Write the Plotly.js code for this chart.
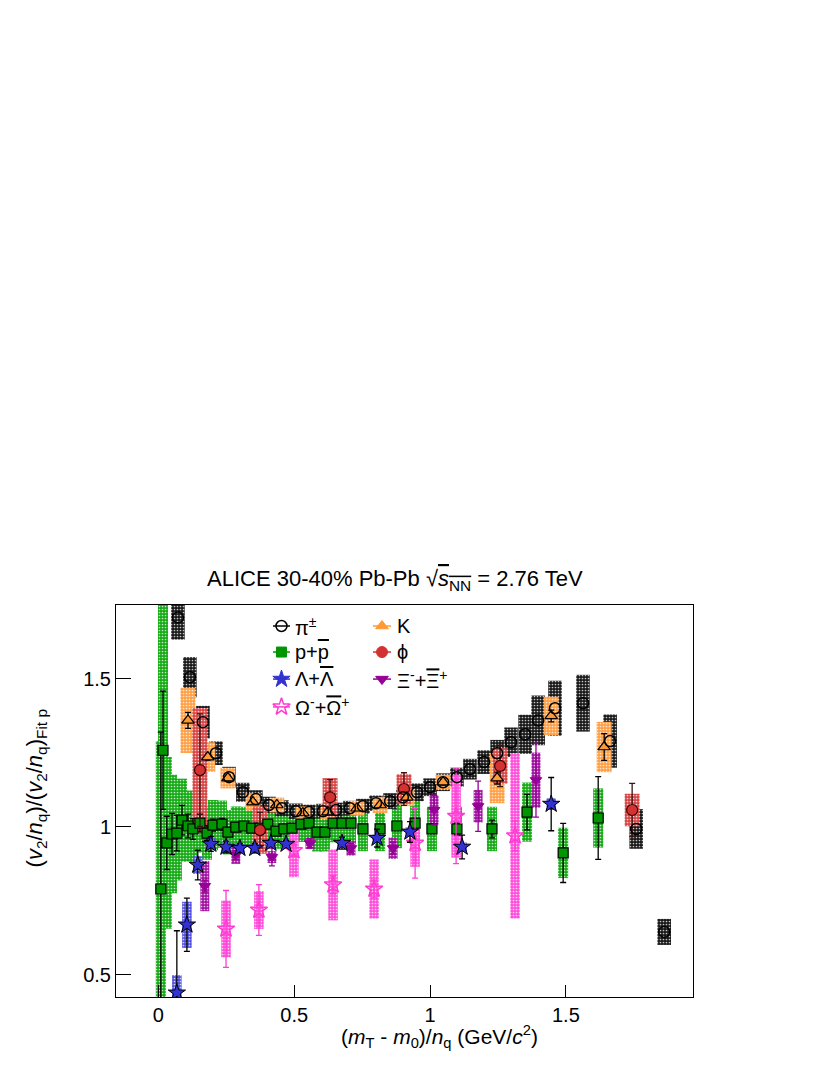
<!DOCTYPE html>
<html>
<head>
<meta charset="utf-8">
<script src="https://cdn.plot.ly/plotly-3.0.1.min.js"></script>
<style>html,body{margin:0;padding:0;background:#fff;}#chart{width:830px;height:1075px;}</style>
</head>
<body>
<div id="chart"></div>
<script>
// ---------------- data ----------------
// pi+-  (x, y, syst)
const piX = [0.072,0.116,0.164,0.212,0.26,0.311,0.359,0.407,0.455,0.506,0.554,0.606,0.654,0.705,0.753,0.801,0.853,0.9,0.952,1.0,1.048,1.099,1.147,1.199,1.247,1.298,1.35,1.398,1.46,1.563,1.663,1.759,1.862];
const piY = [1.708,1.506,1.354,1.249,1.168,1.117,1.094,1.074,1.063,1.053,1.05,1.053,1.057,1.063,1.07,1.08,1.087,1.1,1.117,1.134,1.151,1.168,1.195,1.219,1.249,1.286,1.313,1.36,1.401,1.418,1.29,0.993,0.645];
const piSys = [0.075,0.068,0.055,0.04,0.035,0.032,0.03,0.028,0.027,0.026,0.025,0.025,0.025,0.025,0.025,0.026,0.027,0.028,0.03,0.03,0.03,0.032,0.035,0.04,0.045,0.05,0.066,0.084,0.093,0.096,0.09,0.067,0.044];
// K
const kX = [0.109,0.182,0.256,0.348,0.436,0.532,0.624,0.731,0.816,0.915,1.048,1.247,1.446,1.641];
const kY = [1.36,1.236,1.165,1.084,1.074,1.047,1.05,1.063,1.074,1.1,1.151,1.165,1.375,1.27];
const kSys = [0.11,0.05,0.035,0.03,0.025,0.022,0.025,0.025,0.027,0.03,0.025,0.085,0.065,0.085];
const kStat = [0.027,0.01,0.01,0.008,0.008,0.008,0.008,0.008,0.008,0.01,0.01,0.02,0.02,0.045];
// p + pbar
const pX = [0.009,0.017,0.031,0.05,0.068,0.087,0.109,0.127,0.153,0.179,0.201,0.234,0.256,0.285,0.315,0.344,0.374,0.403,0.433,0.462,0.492,0.525,0.554,0.584,0.613,0.643,0.676,0.709,0.753,0.816,0.878,0.945,1.007,1.099,1.228,1.357,1.49,1.619];
const pY = [0.79,1.259,0.946,0.976,0.979,1.023,1.003,0.993,1.013,0.979,1.006,1.009,0.982,0.999,1.003,0.996,0.996,1.009,0.986,0.993,0.996,1.009,1.013,0.982,0.982,1.013,1.013,1.013,0.993,0.993,1.003,1.013,0.993,0.993,0.993,1.05,0.912,1.03];
const pSys = [0.5,0.55,0.29,0.2,0.16,0.14,0.12,0.11,0.1,0.09,0.085,0.08,0.075,0.07,0.065,0.06,0.06,0.06,0.06,0.06,0.06,0.06,0.06,0.065,0.065,0.065,0.065,0.07,0.075,0.075,0.075,0.075,0.075,0.075,0.075,0.1,0.085,0.1];
const pStat = [0.53,0.2,0.09,0.07,0.06,0.05,0.04,0.035,0.03,0.025,0.02,0.02,0.015,0.015,0.012,0.012,0.012,0.01,0.01,0.01,0.01,0.01,0.01,0.01,0.01,0.01,0.01,0.01,0.01,0.012,0.012,0.015,0.015,0.02,0.03,0.06,0.1,0.14];
// phi
const phiX = [0.153,0.374,0.632,0.904,1.258,1.744];
const phiY = [1.192,0.989,1.1,1.128,1.206,1.057];
const phiSys = [0.21,0.08,0.065,0.05,0.06,0.055];
const phiStat = [0.19,0.06,0.06,0.055,0.07,0.09];
// Lambda + anti-Lambda
const lamX = [0.068,0.105,0.145,0.193,0.249,0.3,0.355,0.414,0.47,0.676,0.805,0.926,1.118,1.446];
const lamY = [0.439,0.669,0.871,0.942,0.932,0.928,0.928,0.945,0.942,0.945,0.962,0.983,0.932,1.077];
const lamSys = [0.06,0.078,0.03,0.02,0.015,0.015,0.015,0.012,0.012,0.012,0.012,0.015,0.015,0.02];
const lamStat = [0.21,0.09,0.05,0.025,0.02,0.015,0.015,0.012,0.012,0.02,0.03,0.035,0.04,0.09];
// Xi- + anti-Xi+
const xiX = [0.171,0.285,0.418,0.558,0.709,0.864,1.015,1.177,1.39];
const xiY = [0.8,0.905,0.898,0.945,0.928,0.928,1.057,1.07,1.158];
const xiSys = [0.085,0.03,0.02,0.02,0.025,0.036,0.049,0.055,0.093];
const xiStat = [0.02,0.015,0.03,0.015,0.015,0.02,0.05,0.085,0.125];
// Omega- + anti-Omega+
const omX = [0.249,0.37,0.499,0.643,0.794,0.945,1.096,1.313];
const omY = [0.655,0.719,0.92,0.804,0.79,0.945,1.036,0.97];
const omSys = [0.096,0.064,0.09,0.12,0.1,0.08,0.14,0.28];
const omStat = [0.13,0.086,0.02,0.03,0.03,0.118,0.16,0.05];

const xTicks = [0, 0.5, 1, 1.5];
const xTickText = ['0', '0.5', '1', '1.5'];
const yTicks = [0.5, 1, 1.5];
const yTickText = ['0.5', '1', '1.5'];

// ---------------- styling ----------------
const FONT = 'Liberation Sans, Arial, Helvetica, sans-serif';
const C = {
  pi: 'rgb(0,0,0)', k: 'rgb(255,153,51)', p: 'rgb(0,150,0)', phi: 'rgb(210,50,50)',
  lam: 'rgb(50,50,210)', xi: 'rgb(150,0,150)', om: 'rgb(255,60,210)'
};
const BOX = {
  pi: 'rgb(25,25,25)', k: 'rgb(255,160,70)', p: 'rgb(20,170,20)', phi: 'rgb(215,70,70)',
  lam: 'rgb(80,80,220)', xi: 'rgb(160,20,160)', om: 'rgb(255,80,220)'
};

function boxTrace(x, y, sys, w, color) {
  return {
    type: 'bar', x: x, y: sys.map(s => 2 * s), base: y.map((v, i) => v - sys[i]),
    width: w, hoverinfo: 'skip', showlegend: false,
    marker: { color: color, line: { width: 0 },
      pattern: { shape: '.', bgcolor: color, fgcolor: 'rgba(255,255,255,0.75)', size: 3, solidity: 0.25, fillmode: 'replace' } }
  };
}
function ptTrace(x, y, stat, sym, size, fill, lineColor, lineW, errColor) {
  const t = {
    type: 'scatter', mode: 'markers', x: x, y: y, showlegend: false, hoverinfo: 'skip',
    marker: { symbol: sym, size: size, color: fill, line: { color: lineColor, width: lineW } }
  };
  if (stat) t.error_y = { type: 'data', array: stat, visible: true, color: errColor, thickness: 1.3, width: 3 };
  return t;
}

const traces = [
  boxTrace(pX, pY, pSys, 0.037, BOX.p),
  boxTrace(piX, piY, piSys, 0.05, BOX.pi),
  boxTrace(kX, kY, kSys, 0.055, BOX.k),
  boxTrace(phiX, phiY, phiSys, 0.055, BOX.phi),
  boxTrace(lamX, lamY, lamSys, 0.035, BOX.lam),
  boxTrace(xiX, xiY, xiSys, 0.033, BOX.xi),
  boxTrace(omX, omY, omSys, 0.035, BOX.om),
  ptTrace(pX, pY, pStat, 'square', 10, C.p, 'black', 1.2, 'black'),
  ptTrace(xiX, xiY, xiStat, 'triangle-down', 10, C.xi, C.xi, 1, C.xi),
  ptTrace(omX, omY, omStat, 'star-open', 13, C.om, C.om, 1.5, C.om),
  ptTrace(lamX, lamY, lamStat, 'star', 13, C.lam, 'black', 1, 'black'),
  ptTrace(phiX, phiY, phiStat, 'circle', 11, C.phi, 'rgb(60,0,0)', 1.2, 'rgb(60,20,20)'),
  ptTrace(kX, kY, kStat, 'triangle-up', 11, C.k, 'black', 1.2, 'black'),
  ptTrace(piX, piY, null, 'circle-open', 11, 'black', 'black', 1.5, 'black')
];

// ---------------- legend (drawn on an overlay axis pair 0..1) ----------------
const legRows = [0.9464, 0.880, 0.811, 0.740];
const legEntries = [
  { col: 0, row: 0, sym: 'circle-open', size: 11, color: C.pi, text: 'π<sup>±</sup>' },
  { col: 0, row: 1, sym: 'square', size: 10, color: C.p, text: 'p+<span style="text-decoration:overline">p</span>' },
  { col: 0, row: 2, sym: 'star', size: 13, color: C.lam, text: 'Λ+<span style="text-decoration:overline">Λ</span>' },
  { col: 0, row: 3, sym: 'star-open', size: 13, color: C.om, text: 'Ω<sup>-</sup>+<span style="text-decoration:overline">Ω</span><sup>+</sup>' },
  { col: 1, row: 0, sym: 'triangle-up', size: 11, color: C.k, text: 'K' },
  { col: 1, row: 1, sym: 'circle', size: 11, color: C.phi, text: 'ϕ' },
  { col: 1, row: 2, sym: 'triangle-down', size: 11, color: C.xi, text: 'Ξ<sup>-</sup>+<span style="text-decoration:overline">Ξ</span><sup>+</sup>' }
];
const legCols = [{ l0: 0.2721, l1: 0.3016, m: 0.2868, t: 0.3068 }, { l0: 0.4454, l1: 0.4766, m: 0.461, t: 0.4835 }];
const annotations = [];
legEntries.forEach(e => {
  const c = legCols[e.col], yy = legRows[e.row];
  traces.push({ type: 'scatter', mode: 'lines', x: [c.l0, c.l1], y: [yy, yy], xaxis: 'x2', yaxis: 'y2',
    line: { color: e.color, width: 1.5 }, showlegend: false, hoverinfo: 'skip' });
  traces.push({ type: 'scatter', mode: 'markers', x: [c.m], y: [yy], xaxis: 'x2', yaxis: 'y2',
    marker: { symbol: e.sym, size: e.size, color: e.color, line: { color: e.color, width: e.sym.endsWith('open') ? 1.5 : 1 } },
    showlegend: false, hoverinfo: 'skip' });
  annotations.push({ xref: 'paper', yref: 'paper', x: c.t, y: yy, xanchor: 'left', yanchor: 'middle',
    text: e.text, showarrow: false, font: { family: FONT, size: 20, color: 'black' } });
});

annotations.push({ xref: 'paper', yref: 'paper', x: 0.4835, y: 1.064, xanchor: 'center', yanchor: 'middle', showarrow: false,
  text: 'ALICE 30-40% Pb-Pb √<span style="text-decoration:overline"><i>s</i><sub>NN</sub></span> = 2.76 TeV',
  font: { family: FONT, size: 22, color: 'black' } });
annotations.push({ xref: 'paper', yref: 'paper', x: 0.5615, y: -0.1, xanchor: 'center', yanchor: 'middle', showarrow: false,
  text: '(<i>m</i><sub>T</sub> - <i>m</i><sub>0</sub>)/<i>n</i><sub>q</sub> (GeV/<i>c</i><sup>2</sup>)',
  font: { family: FONT, size: 21, color: 'black' } });
annotations.push({ xref: 'paper', yref: 'paper', x: -0.137, y: 0.532, xanchor: 'center', yanchor: 'middle', showarrow: false, textangle: -90,
  text: '(<i>v</i><sub>2</sub>/<i>n</i><sub>q</sub>)/(<i>v</i><sub>2</sub>/<i>n</i><sub>q</sub>)<sub>Fit p</sub>',
  font: { family: FONT, size: 22, color: 'black' } });

const layout = {
  width: 830, height: 1075,
  margin: { l: 116, r: 137, t: 605, b: 78, pad: 0 },
  paper_bgcolor: 'white', plot_bgcolor: 'white',
  barmode: 'overlay', showlegend: false,
  font: { family: FONT, size: 20, color: 'black' },
  xaxis: { range: [-0.156, 1.968], tickvals: xTicks, ticktext: xTickText, ticks: 'inside', ticklen: 12, tickwidth: 1,
    tickcolor: 'black', showline: true, linecolor: 'black', linewidth: 1, mirror: true, showgrid: false, zeroline: false,
    tickfont: { family: FONT, size: 20, color: 'black' } },
  yaxis: { range: [0.425, 1.75], tickvals: yTicks, ticktext: yTickText, ticks: 'inside', ticklen: 15, tickwidth: 1,
    tickcolor: 'black', showline: true, linecolor: 'black', linewidth: 1, mirror: true, showgrid: false, zeroline: false,
    tickfont: { family: FONT, size: 20, color: 'black' } },
  xaxis2: { overlaying: 'x', range: [0, 1], visible: false, fixedrange: true },
  yaxis2: { overlaying: 'y', range: [0, 1], visible: false, fixedrange: true },
  annotations: annotations
};

Plotly.newPlot('chart', traces, layout, { staticPlot: true, displayModeBar: false });
</script>
</body>
</html>
